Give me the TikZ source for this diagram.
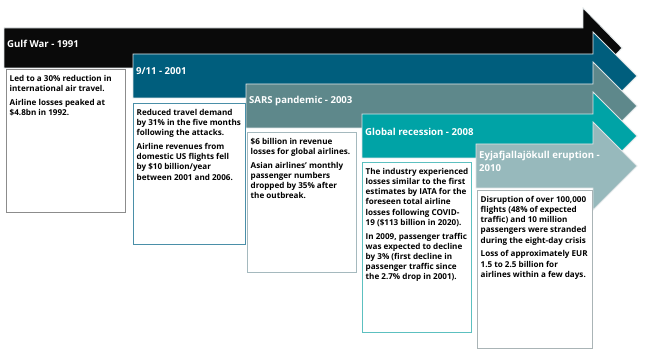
\documentclass[tikz,border=0pt]{standalone}
\usepackage{fontspec}
\setmainfont{Open Sans}
\usetikzlibrary{positioning}
\definecolor{warblack}{RGB}{10,10,10}
\definecolor{attackteal}{RGB}{0,94,125}
\definecolor{sarsgrey}{RGB}{94,136,139}
\definecolor{recessionteal}{RGB}{0,163,166}
\definecolor{ashgrey}{RGB}{151,185,188}
\definecolor{bandedge}{RGB}{222,228,230}
\definecolor{edgeone}{RGB}{140,140,140}
\definecolor{edgetwo}{RGB}{74,143,168}
\definecolor{edgethree}{RGB}{165,185,190}
\definecolor{edgefour}{RGB}{92,192,192}
\definecolor{edgefive}{RGB}{170,180,182}

\begin{document}
\begin{tikzpicture}[
    x=1pt, y=-1pt,
    band/.style={draw=bandedge, line width=0.8pt, line join=miter},
    headline/.style={anchor=west, align=left, inner sep=0pt, text=white, font=\fontsize{9.6}{12.5}\selectfont\bfseries},
    infobox/.style={draw, line width=1pt, fill=white, anchor=north west, inner sep=0pt},
    infotext/.style={anchor=north west, align=left, inner sep=0pt, font=\fontsize{8.1}{10.2}\selectfont\bfseries}
]
    \useasboundingbox (0,0) rectangle (650,358);

    % Timeline arrows
    \filldraw[band, fill=warblack] (4,28) -- (583,28) -- (583,8) -- (622,48) -- (583,88) -- (583,68) -- (4,68) -- cycle;
    \filldraw[band, fill=attackteal] (133,54) -- (593,54) -- (593,32) -- (637,76) -- (593,120) -- (593,98) -- (133,98) -- cycle;
    \filldraw[band, fill=sarsgrey] (246,84) -- (593,84) -- (593,62) -- (637,106) -- (593,150) -- (593,128) -- (246,128) -- cycle;
    \filldraw[band, fill=recessionteal] (362,114) -- (593,114) -- (593,92) -- (637,136) -- (593,180) -- (593,158) -- (362,158) -- cycle;
    \filldraw[band, fill=ashgrey] (476,144) -- (593,144) -- (593,122) -- (637,166) -- (593,210) -- (593,188) -- (476,188) -- cycle;

    % Titles
    \node[headline] (gulf) at (7,43.5) {Gulf War - 1991};
    \node[headline] (attack) at (136,71.5) {9/11 - 2001};
    \node[headline] (sars) at (249,101.5) {SARS pandemic - 2003};
    \node[headline] (recession) at (365,131.5) {Global recession - 2008};
    \node[headline] (eruption) at (479,161.5) {Eyjafjallajökull eruption -\\2010};

    % Boxes
    \node[infobox, draw=edgeone, minimum width=119pt, minimum height=143pt] (gulfbox) at (6,69) {};
    \node[infobox, draw=edgetwo, minimum width=112pt, minimum height=141pt] (attackbox) at (133,103) {};
    \node[infobox, draw=edgethree, minimum width=109pt, minimum height=140pt] (sarsbox) at (247,132) {};
    \node[infobox, draw=edgefour, minimum width=109pt, minimum height=170pt] (recessionbox) at (362,162) {};
    \node[infobox, draw=edgefive, minimum width=115pt, minimum height=158pt] (eruptionbox) at (477,190) {};

    % Box texts
    \node[infotext] (gulftext) at ([shift={(3.5,6)}]gulfbox.north west) {
        Led to a 30\% reduction in\\
        international air travel.\\[3.5pt]
        Airline losses peaked at\\
        \$4.8bn in 1992.
    };

    \node[infotext] (attacktext) at ([shift={(3.5,6)}]attackbox.north west) {
        Reduced travel demand\\
        by 31\% in the five months\\
        following the attacks.\\[3.5pt]
        Airline revenues from\\
        domestic US flights fell\\
        by \$10 billion/year\\
        between 2001 and 2006.
    };

    \node[infotext] (sarstext) at ([shift={(3.5,6)}]sarsbox.north west) {
        \$6 billion in revenue\\
        losses for global airlines.\\[3.5pt]
        Asian airlines’ monthly\\
        passenger numbers\\
        dropped by 35\% after\\
        the outbreak.
    };

    \node[infotext] (recessiontext) at ([shift={(3.5,6)}]recessionbox.north west) {
        The industry experienced\\
        losses similar to the first\\
        estimates by IATA for the\\
        foreseen total airline\\
        losses following COVID-\\
        19 (\$113 billion in 2020).\\[3.5pt]
        In 2009, passenger traffic\\
        was expected to decline\\
        by 3\% (first decline in\\
        passenger traffic since\\
        the 2.7\% drop in 2001).
    };

    \node[infotext] (eruptiontext) at ([shift={(3.5,6)}]eruptionbox.north west) {
        Disruption of over 100,000\\
        flights (48\% of expected\\
        traffic) and 10 million\\
        passengers were stranded\\
        during the eight-day crisis\\[3.5pt]
        Loss of approximately EUR\\
        1.5 to 2.5 billion for\\
        airlines within a few days.
    };
\end{tikzpicture}
\end{document}
